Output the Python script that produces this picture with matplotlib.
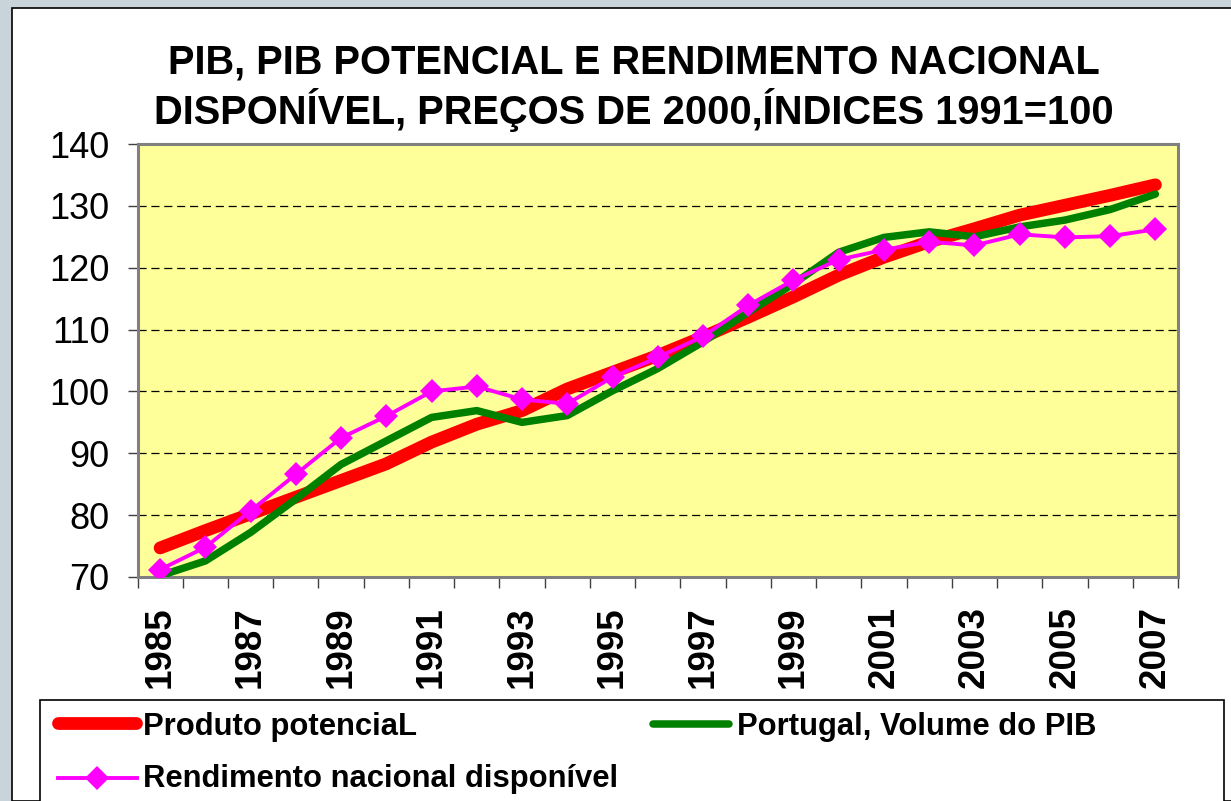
import matplotlib
matplotlib.use("Agg")
import matplotlib.pyplot as plt
from matplotlib.lines import Line2D
from matplotlib.patches import Rectangle
import numpy as np

years = list(range(1985, 2008))
produto_potencial = [74.7, 77.5, 80.2, 82.9, 85.6, 88.3, 91.8, 94.7, 96.9, 100.4, 103.1, 105.8,
                     108.8, 112.0, 115.3, 118.8, 121.7, 124.2, 126.3, 128.5, 130.1, 131.7, 133.4]
volume_pib = [70.2, 72.6, 77.2, 82.6, 88.2, 92.0, 95.8, 96.9, 95.0, 96.1, 100.1, 103.7,
              108.0, 112.8, 117.4, 122.5, 124.9, 125.8, 125.0, 126.6, 127.7, 129.4, 131.9]
rendimento = [71.2, 74.8, 80.7, 86.6, 92.5, 96.0, 100.0, 100.8, 98.7, 98.0, 102.3, 105.5,
              108.9, 113.9, 118.0, 121.3, 122.9, 124.2, 123.6, 125.4, 124.9, 125.1, 126.2]
labels = ["Produto potenciaL", "Portugal, Volume do PIB", "Rendimento nacional disponível"]
title1 = "PIB, PIB POTENCIAL E RENDIMENTO NACIONAL"
title2 = "DISPONÍVEL, PREÇOS DE 2000,ÍNDICES 1991=100"
yticks = [70, 80, 90, 100, 110, 120, 130, 140]

RED, GREEN, MAG = "#FF0000", "#008000", "#FF00FF"
W, H = 1231, 801
plt.rcParams['font.family'] = ['Liberation Sans', 'DejaVu Sans']

fig = plt.figure(figsize=(W / 100, H / 100), dpi=100)
fig.patch.set_facecolor("#C9D3DA")

def fx(px):
    return px / W

def fy(py):
    return 1 - py / H

# white panel
fig.add_artist(Rectangle((fx(12), 0), 1.2, fy(8), transform=fig.transFigure,
                         facecolor="white", edgecolor="black", linewidth=1.2, zorder=0))

ax = fig.add_axes([fx(137.5), fy(577), fx(1178) - fx(137.5), fy(144) - fy(577)])
ax.set_facecolor("#FFFF99")
x = np.arange(len(years))
ax.plot(x, produto_potencial, color=RED, lw=9.2, solid_capstyle="round", zorder=3)
ax.plot(x, volume_pib, color=GREEN, lw=5.4, solid_capstyle="round", zorder=4)
ax.plot(x, rendimento, color=MAG, lw=2.8, marker="D", markersize=12, markeredgewidth=0,
        zorder=5)

ax.set_xlim(-0.5, len(years) - 0.5)
ax.set_ylim(70, 140)
ax.set_yticks(yticks)
ax.set_yticklabels([str(v) for v in yticks])
ax.tick_params(axis="y", length=7, width=1, color="#404040", pad=13, labelsize=26)

ax.set_xticks(np.arange(-0.5, len(years), 1.0), minor=True)
ax.set_xticks(x[::2])
ax.set_xticklabels([str(y) for y in years[::2]], rotation=90, fontweight="bold")
ax.tick_params(axis="x", which="minor", length=8, width=1, color="#404040")
ax.tick_params(axis="x", which="major", length=0, pad=21, labelsize=26.5)

ax.yaxis.grid(True, color="black", lw=0.9, linestyle=(0, (6.5, 3.8)))
gl = ax.get_ygridlines()
gl[0].set_visible(False)
gl[-1].set_visible(False)
for s in ax.spines.values():
    s.set_color("#808080")
    s.set_linewidth(2.2)

fig.text(fx(634), fy(73), title1, ha="center", va="baseline", fontsize=28.7, fontweight="bold")
fig.text(fx(634), fy(124), title2, ha="center", va="baseline", fontsize=28.7, fontweight="bold")

# legend box
fig.add_artist(Rectangle((fx(40), fy(812)), fx(1224) - fx(40), fy(700) - fy(812),
                         transform=fig.transFigure, facecolor="white", edgecolor="black",
                         linewidth=1.2, zorder=1))
fig.add_artist(Line2D([fx(58), fx(136)], [fy(723), fy(723)], color=RED, lw=9.2,
                      solid_capstyle="round", zorder=2))
fig.add_artist(Line2D([fx(653), fx(729)], [fy(724), fy(724)], color=GREEN, lw=5.4,
                      solid_capstyle="round", zorder=2))
fig.add_artist(Line2D([fx(58), fx(137)], [fy(778), fy(778)], color=MAG, lw=2.8, zorder=2))
fig.add_artist(Line2D([fx(97)], [fy(778)], color=MAG, marker="D", markersize=12,
                      markeredgewidth=0, zorder=2))
lkw = dict(va="center", fontsize=22.3, fontweight="bold", zorder=3)
fig.text(fx(143), fy(727), labels[0], **lkw)
fig.text(fx(737), fy(727), labels[1], **lkw)
fig.text(fx(143), fy(779), labels[2], **lkw)

fig.savefig("out.png", dpi=100, facecolor=fig.get_facecolor())
